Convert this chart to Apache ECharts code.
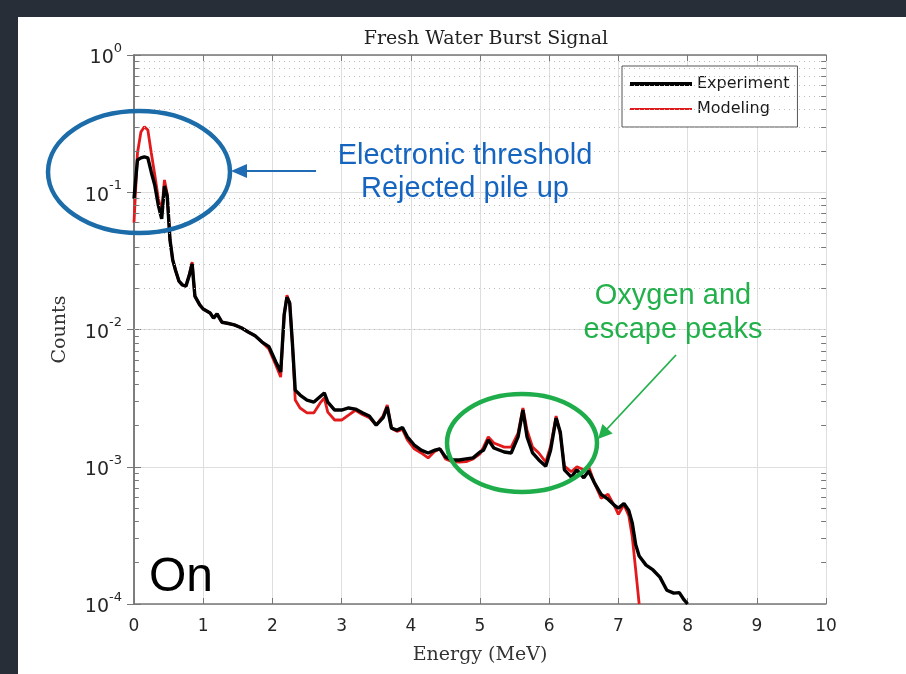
<!DOCTYPE html>
<html><head><meta charset="utf-8">
<script src="https://cdn.jsdelivr.net/npm/echarts@6/dist/echarts.min.js"></script>
<style>html,body{margin:0;padding:0;background:#fff}#c{width:906px;height:674px}</style>
</head><body><div id="c"></div>
<script>
// ---- data ----
const energy = [
  0, 0.05, 0.1, 0.15, 0.2, 0.25, 0.3, 0.35, 0.4, 0.44,
  0.48, 0.52, 0.56, 0.6, 0.65, 0.7, 0.75, 0.8, 0.84, 0.88,
  0.95, 1.0, 1.1, 1.15, 1.2, 1.27, 1.35, 1.45, 1.55, 1.65,
  1.75, 1.85, 1.95, 2.05, 2.12, 2.17, 2.21, 2.25, 2.29, 2.33,
  2.4, 2.5, 2.6, 2.7, 2.75, 2.8, 2.9, 3.0, 3.1, 3.2,
  3.3, 3.4, 3.5, 3.6, 3.66, 3.72, 3.8, 3.88, 3.95, 4.05,
  4.15, 4.25, 4.35, 4.42, 4.5, 4.6, 4.7, 4.8, 4.9, 5.0,
  5.05, 5.12, 5.2, 5.35, 5.45, 5.55, 5.62, 5.68, 5.76, 5.85,
  5.95, 6.02, 6.1, 6.16, 6.22, 6.32, 6.4, 6.5, 6.57, 6.65,
  6.75, 6.85, 6.95, 7.0, 7.08, 7.15, 7.2, 7.25, 7.3, 7.4,
  7.5, 7.6, 7.7, 7.8, 7.88, 7.95, 8.0
];
const experiment = [
  0.09, 0.172, 0.178, 0.181, 0.178, 0.14, 0.113, 0.081, 0.064, 0.111,
  0.094, 0.045, 0.032, 0.027, 0.0225, 0.0211, 0.0207, 0.0249, 0.030, 0.0175,
  0.0151, 0.0141, 0.0132, 0.0121, 0.0130, 0.0113, 0.0111, 0.0108, 0.0103, 0.0096,
  0.0090, 0.0081, 0.0075, 0.0058, 0.0049, 0.0128, 0.0172, 0.0156, 0.0078, 0.00362,
  0.00333, 0.00306, 0.00296, 0.00328, 0.00345, 0.00296, 0.00259, 0.00259, 0.00268, 0.00263,
  0.00247, 0.00234, 0.00201, 0.00228, 0.00272, 0.00191, 0.00185, 0.00193, 0.00165, 0.00144,
  0.00132, 0.00126, 0.00132, 0.00135, 0.00118, 0.00112, 0.00112, 0.00114, 0.00116, 0.00128,
  0.00132, 0.00157, 0.00137, 0.00128, 0.00126, 0.00165, 0.00259, 0.00165, 0.00126, 0.00112,
  0.00101, 0.00132, 0.00226, 0.00179, 0.00095, 0.00084, 0.00095, 0.00083, 0.00093, 0.00077,
  0.00063, 0.00058, 0.00052, 0.00050, 0.00054, 0.00048, 0.00039, 0.00027, 0.000224, 0.000192,
  0.000177, 0.000157, 0.000126, 0.000120, 0.000121, 0.000107, 0.0001
];
const modeling = [
  0.06, 0.193, 0.275, 0.30, 0.284, 0.193, 0.134, 0.091, 0.072, 0.123,
  0.097, 0.045, 0.032, 0.027, 0.0225, 0.0211, 0.0207, 0.0252, 0.031, 0.0175,
  0.0151, 0.0141, 0.0132, 0.0121, 0.0130, 0.0113, 0.0111, 0.0108, 0.0103, 0.0096,
  0.0090, 0.0081, 0.0072, 0.0055, 0.0045, 0.0128, 0.0178, 0.0156, 0.0078, 0.00306,
  0.00268, 0.00247, 0.00247, 0.00296, 0.00317, 0.0025, 0.00219, 0.00219, 0.00238, 0.00258,
  0.0024, 0.00228, 0.00201, 0.00235, 0.00282, 0.00191, 0.00181, 0.00187, 0.00157, 0.00135,
  0.00126, 0.00116, 0.0013, 0.00135, 0.00114, 0.00109, 0.00108, 0.00109, 0.00114, 0.00124,
  0.00139, 0.00165, 0.00149, 0.00139, 0.00139, 0.00176, 0.00268, 0.00185, 0.00139, 0.00126,
  0.00108, 0.00141, 0.00234, 0.00172, 0.00101, 0.00092, 0.00100, 0.00095, 0.00100, 0.00077,
  0.00059, 0.00063, 0.00051, 0.00045, 0.00053, 0.00044, 0.00031, 0.000177, 0.0001, null,
  null, null, null, null, null, null, null
];
const seriesNames = ['Experiment', 'Modeling'];
const xMin = 0, xMax = 10, xStep = 1;
const yMin = 1e-4, yMax = 1;
const titleText = 'Fresh Water Burst Signal';
const xName = 'Energy (MeV)';
const yName = 'Counts';

// ---- build ----
const expData = energy.map((e, i) => [e, experiment[i]]);
const modData = [];
energy.forEach((e, i) => { if (modeling[i] !== null) modData.push([e, modeling[i]]); });

const minorVals = [];
for (let k = -4; k < 0; k++) for (let m = 2; m <= 9; m++) minorVals.push(m * Math.pow(10, k));
const minorGrid = minorVals.map(v => ({ yAxis: v }));
const minorTicks = [];
minorVals.forEach(v => {
  minorTicks.push([{ coord: [xMin, v] }, { coord: [xMin + 0.07, v] }]);
  minorTicks.push([{ coord: [xMax - 0.07, v] }, { coord: [xMax, v] }]);
});

const SERIF = '"DejaVu Serif", "Liberation Serif", serif';
const SANS = '"DejaVu Sans", "Liberation Sans", sans-serif';
const AX = '#777777';
const chart = echarts.init(document.getElementById('c'), null, { renderer: 'canvas' });
chart.setOption({
  backgroundColor: '#ffffff',
  animation: false,
  title: {
    text: titleText, left: 481, top: 25, textAlign: 'center',
    textStyle: { fontFamily: SERIF, fontSize: 19, fontWeight: 'normal', color: '#222' }
  },
  grid: { left: 134, right: 80, top: 55, bottom: 70 },
  legend: {
    orient: 'vertical', left: 622, top: 66,
    itemWidth: 62, itemHeight: 14, itemGap: 9,
    padding: [10, 8, 10, 8],
    borderColor: '#555', borderWidth: 1, backgroundColor: '#fff',
    textStyle: { fontFamily: SANS, fontSize: 16, color: '#1a1a1a' },
    data: [
      { name: seriesNames[0], icon: 'path://M0 0H62V4H0Z', itemStyle: { color: '#000' } },
      { name: seriesNames[1], icon: 'path://M0 0H62V2H0Z', itemStyle: { color: '#e31a1c' } }
    ]
  },
  xAxis: [{
    type: 'value', min: xMin, max: xMax, interval: xStep,
    name: xName, nameLocation: 'middle', nameGap: 42,
    nameTextStyle: { fontFamily: SERIF, fontSize: 19, color: '#333' },
    axisLine: { lineStyle: { color: AX, width: 1.5 } },
    axisTick: { inside: true, length: 6, lineStyle: { color: AX } },
    axisLabel: { margin: 14, fontFamily: SANS, fontSize: 17, color: '#262626' },
    splitLine: { show: true, lineStyle: { color: '#dedede', width: 1 } }
  }, {
    type: 'value', position: 'top', min: xMin, max: xMax, interval: xStep,
    axisLine: { show: true, lineStyle: { color: AX, width: 1.5 } },
    axisTick: { inside: true, length: 6, lineStyle: { color: AX } },
    axisLabel: { show: false }, splitLine: { show: false }
  }],
  yAxis: [{
    type: 'log', logBase: 10, min: yMin, max: yMax,
    name: yName, nameLocation: 'middle', nameGap: 64, nameRotate: 90,
    nameTextStyle: { fontFamily: SERIF, fontSize: 19, color: '#333' },
    axisLine: { show: true, lineStyle: { color: AX, width: 1.5 } },
    axisTick: { inside: true, length: 7, lineStyle: { color: AX } },
    axisLabel: {
      margin: 12,
      formatter: v => '{b|10}{s|' + Math.round(Math.log10(v)) + '}',
      rich: {
        b: { fontFamily: SANS, fontSize: 19, color: '#262626', lineHeight: 26, verticalAlign: 'bottom' },
        s: { fontFamily: SANS, fontSize: 13, color: '#262626', lineHeight: 26, verticalAlign: 'top' }
      }
    },
    splitLine: { show: true, lineStyle: { color: '#dedede', width: 1 } }
  }, {
    type: 'log', logBase: 10, min: yMin, max: yMax, position: 'right',
    axisLine: { show: true, lineStyle: { color: AX, width: 1.5 } },
    axisTick: { inside: true, length: 7, lineStyle: { color: AX } },
    axisLabel: { show: false }, splitLine: { show: false }
  }],
  series: [{
    name: 'grid-minor', type: 'line', data: [], z: 1, silent: true,
    markLine: {
      silent: true, symbol: 'none', label: { show: false },
      lineStyle: { color: '#bcbcbc', type: [1, 4], width: 1 },
      data: minorGrid
    }
  }, {
    name: 'tick-minor', type: 'line', data: [], z: 1, silent: true,
    markLine: {
      silent: true, symbol: 'none', label: { show: false },
      lineStyle: { color: AX, type: 'solid', width: 1 },
      data: minorTicks
    }
  }, {
    name: seriesNames[0], type: 'line', data: expData, symbol: 'none', z: 4,
    lineStyle: { color: '#000', width: 3.4, type: 'solid' }, itemStyle: { color: '#000' }
  }, {
    name: seriesNames[1], type: 'line', data: modData, symbol: 'none', z: 3,
    lineStyle: { color: '#e31a1c', width: 2.8, type: 'solid' }, itemStyle: { color: '#e31a1c' }
  }],
  graphic: [
    { type: 'rect', shape: { x: 0, y: 0, width: 906, height: 17 }, style: { fill: '#282e38' }, z: 100 },
    { type: 'rect', shape: { x: 0, y: 0, width: 18, height: 674 }, style: { fill: '#282e38' }, z: 100 },
    { type: 'ellipse', shape: { cx: 139, cy: 172, rx: 91, ry: 61 }, style: { fill: 'none', stroke: '#1b6ca8', lineWidth: 4.5 }, z: 100 },
    { type: 'line', shape: { x1: 316, y1: 171, x2: 245, y2: 171 }, style: { stroke: '#1f6cb4', lineWidth: 2 }, z: 100 },
    { type: 'polygon', shape: { points: [[231, 171], [247, 164], [247, 178]] }, style: { fill: '#1f6cb4' }, z: 100 },
    { type: 'text', x: 465, y: 156, style: { text: 'Electronic threshold', fill: '#1565c0', font: '29px "Liberation Sans", Arial, sans-serif', textAlign: 'center', textVerticalAlign: 'middle' }, z: 100 },
    { type: 'text', x: 465, y: 189, style: { text: 'Rejected pile up', fill: '#1565c0', font: '29px "Liberation Sans", Arial, sans-serif', textAlign: 'center', textVerticalAlign: 'middle' }, z: 100 },
    { type: 'ellipse', shape: { cx: 522, cy: 443, rx: 75, ry: 49 }, style: { fill: 'none', stroke: '#1fad4b', lineWidth: 4.5 }, z: 100 },
    { type: 'line', shape: { x1: 676, y1: 355, x2: 606, y2: 430 }, style: { stroke: '#22b04b', lineWidth: 1.8 }, z: 100 },
    { type: 'polygon', shape: { points: [[598, 439], [612.6, 433.5], [602.4, 424]] }, style: { fill: '#22b04b' }, z: 100 },
    { type: 'text', x: 673, y: 296, style: { text: 'Oxygen and', fill: '#22b04b', font: '29px "Liberation Sans", Arial, sans-serif', textAlign: 'center', textVerticalAlign: 'middle' }, z: 100 },
    { type: 'text', x: 673, y: 330, style: { text: 'escape peaks', fill: '#22b04b', font: '29px "Liberation Sans", Arial, sans-serif', textAlign: 'center', textVerticalAlign: 'middle' }, z: 100 },
    { type: 'text', x: 181, y: 578, style: { text: 'On', fill: '#000', font: '48px "Liberation Sans", Arial, sans-serif', textAlign: 'center', textVerticalAlign: 'middle' }, z: 100 }
  ]
});
</script>
</body></html>
